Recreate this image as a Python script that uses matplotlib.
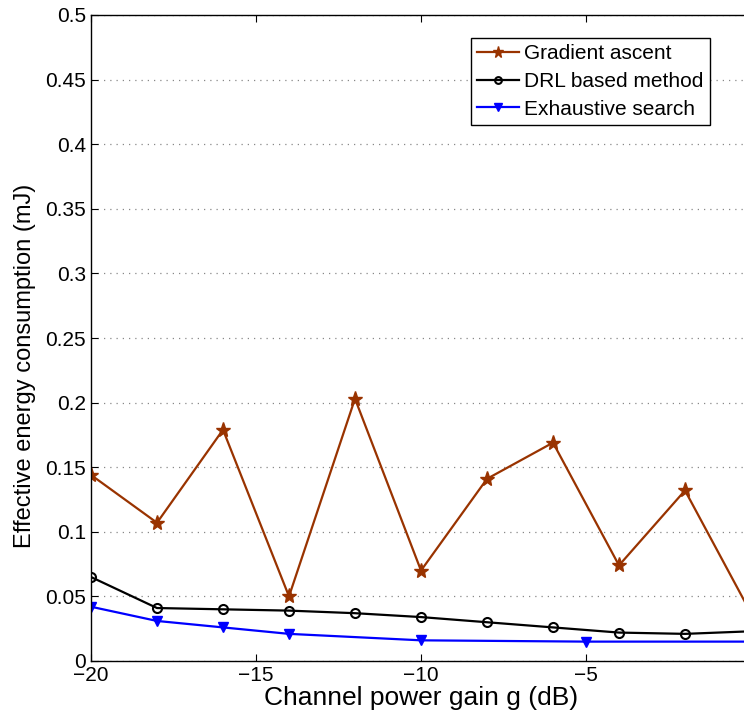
import numpy as np
import matplotlib.pyplot as plt

plt.rcParams['font.family'] = ['Liberation Sans', 'DejaVu Sans']

# channel gain (dB)
g_all = [-20, -18, -16, -14, -12, -10, -8, -6, -4, -2, 0]
grad_ascent = [0.144, 0.107, 0.179, 0.050, 0.203, 0.070, 0.141, 0.169, 0.074, 0.132, 0.037]
drl_method = [0.065, 0.041, 0.040, 0.039, 0.037, 0.034, 0.030, 0.026, 0.022, 0.021, 0.023]

g_search = [-20, -18, -16, -14, -10, -5, 0]
exh_search = [0.042, 0.031, 0.026, 0.021, 0.016, 0.015, 0.015]

xticks = [-20, -15, -10, -5, 0]
yticks = [0, 0.05, 0.1, 0.15, 0.2, 0.25, 0.3, 0.35, 0.4, 0.45, 0.5]
ytick_labels = ['0', '0.05', '0.1', '0.15', '0.2', '0.25', '0.3', '0.35', '0.4', '0.45', '0.5']

fig = plt.figure(figsize=(7.44, 7.19), dpi=100)
# axes runs past the right edge of the figure, like the cropped original
ax = fig.add_axes([91 / 744, 58 / 719, (751 - 91) / 744, (661 - 15) / 719])

ax.plot(g_all, grad_ascent, color='#993300', marker='*', markersize=11,
        linewidth=1.6, label='Gradient ascent')
ax.plot(g_all, drl_method, color='black', marker='o', markersize=6.5,
        markerfacecolor='none', markeredgewidth=1.5, linewidth=1.6,
        label='DRL based method')
ax.plot(g_search, exh_search, color='blue', marker='v', markersize=7,
        linewidth=1.6, label='Exhaustive search')

ax.set_xlim(-20, 0)
ax.set_ylim(0, 0.5)
ax.set_xticks(xticks)
ax.set_xticklabels(['\u221220', '\u221215', '\u221210', '\u22125', '0'])
ax.set_yticks(yticks)
ax.set_yticklabels(ytick_labels)
ax.tick_params(direction='in', top=True, right=True, labelsize=15, length=5)
ax.yaxis.grid(True, linestyle=(0, (1, 4)), color='#888888', linewidth=0.9)

ax.set_xlabel('Channel power gain g (dB)', fontsize=19, labelpad=1)
ax.set_ylabel('Effective energy consumption (mJ)', fontsize=17)
ax.yaxis.set_label_coords(-0.083, 0.457)

leg = ax.legend(loc='upper left', fontsize=15, fancybox=False,
                framealpha=1, edgecolor='black', borderpad=0.3,
                borderaxespad=0, labelspacing=0.42, handlelength=2.0,
                handletextpad=0.25, markerscale=0.75)
leg.set_bbox_to_anchor((471 / 744, 1 - 38 / 719), transform=fig.transFigure)
leg.get_frame().set_linewidth(1.0)

for s in ax.spines.values():
    s.set_linewidth(1.0)

fig.savefig('out.png', dpi=100)
